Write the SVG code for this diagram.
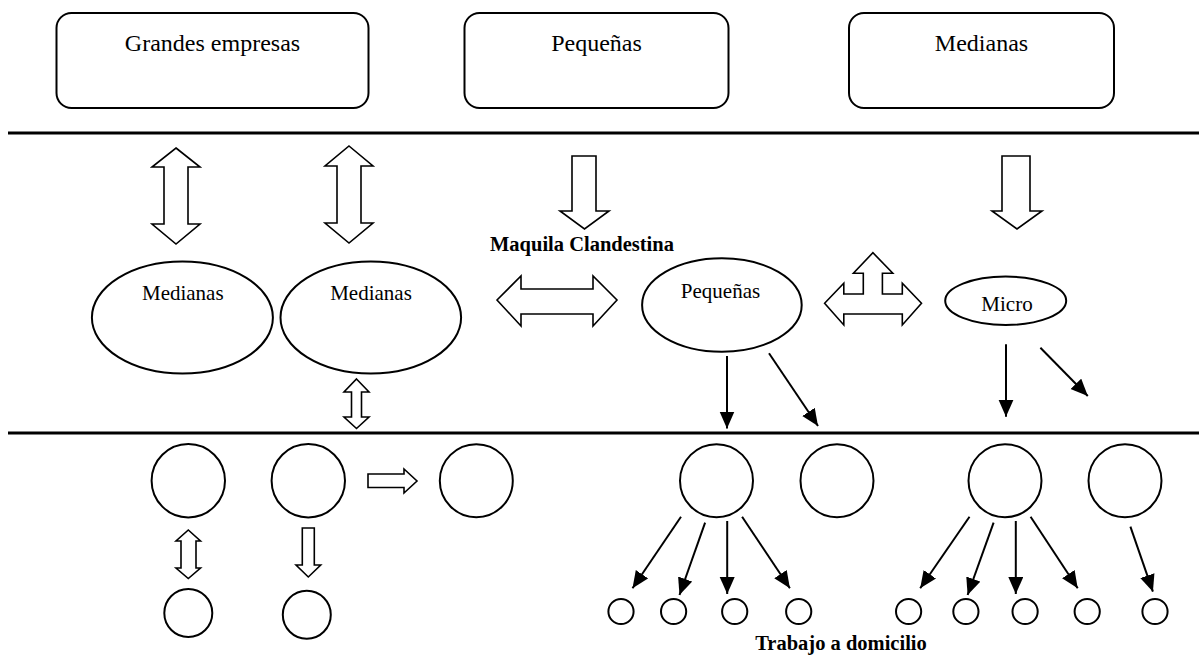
<svg xmlns="http://www.w3.org/2000/svg" width="1199" height="660" viewBox="0 0 1199 660">
<style>
.box{fill:#fff;stroke:#000;stroke-width:2}
.node{fill:#fff;stroke:#000;stroke-width:2}
.blk{fill:#fff;stroke:#000;stroke-width:1.6;stroke-linejoin:miter}
.sep{stroke:#000;stroke-width:3}
.ln{stroke:#000;stroke-width:2;fill:none}
.t24{font-family:"Liberation Serif","Times New Roman",serif;font-size:24px;text-anchor:middle;fill:#000}
.t21{font-family:"Liberation Serif","Times New Roman",serif;font-size:21px;text-anchor:middle;fill:#000}
.tb{font-family:"Liberation Serif","Times New Roman",serif;font-size:20.5px;font-weight:bold;text-anchor:middle;fill:#000}
</style>
<defs>
<marker id="ah" markerUnits="userSpaceOnUse" markerWidth="18" markerHeight="16" refX="17" refY="7.5" orient="auto">
<path d="M0,0 L17,7.5 L0,15 z" fill="#000"/>
</marker>
</defs>
<rect width="1199" height="660" fill="#fff"/>
<g id="separators">
<line class="sep" x1="8" y1="133" x2="1199" y2="133"/>
<line class="sep" x1="8" y1="433" x2="1199" y2="433"/>
</g>
<g id="box-grandes"><rect class="box" x="56.5" y="13" width="312" height="95" rx="15"/><text class="t24" x="212.5" y="51">Grandes empresas</text></g>
<g id="box-pequenas"><rect class="box" x="464.5" y="13" width="264" height="95" rx="15"/><text class="t24" x="596.5" y="51">Pequeñas</text></g>
<g id="box-medianas"><rect class="box" x="849" y="13" width="265" height="95" rx="15"/><text class="t24" x="981.5" y="51">Medianas</text></g>
<g id="label-maquila"><text class="tb" x="582" y="250.5">Maquila Clandestina</text></g>
<g id="ell-medianas1"><ellipse class="node" cx="182.4" cy="317.5" rx="90.5" ry="56"/><text class="t21" x="182.8" y="300">Medianas</text></g>
<g id="ell-medianas2"><ellipse class="node" cx="370.8" cy="317.5" rx="90.3" ry="56"/><text class="t21" x="371" y="300">Medianas</text></g>
<g id="ell-pequenas"><ellipse class="node" cx="721.9" cy="305" rx="79.8" ry="46.7"/><text class="t21" x="720.5" y="298">Pequeñas</text></g>
<g id="ell-micro"><ellipse class="node" cx="1005.7" cy="300.8" rx="60.5" ry="24.2"/><text class="t21" x="1007" y="310.7">Micro</text></g>
<g id="circles-left">
<circle class="node" cx="188.3" cy="480.7" r="36.7"/>
<circle class="node" cx="308.3" cy="480.7" r="36.7"/>
<circle class="node" cx="476.3" cy="480.7" r="36.5"/>
<circle class="node" cx="188.3" cy="613" r="24"/>
<circle class="node" cx="306.8" cy="614.7" r="24"/>
</g>
<g id="circles-right">
<circle class="node" cx="716.5" cy="480.7" r="36.5"/>
<circle class="node" cx="837" cy="480.7" r="36.5"/>
<circle class="node" cx="1005" cy="480.7" r="36.5"/>
<circle class="node" cx="1125" cy="480.7" r="36.5"/>
<circle class="node" cx="621" cy="611.5" r="12.6"/>
<circle class="node" cx="673.6" cy="611.5" r="12.6"/>
<circle class="node" cx="734.7" cy="611.5" r="12.6"/>
<circle class="node" cx="798.7" cy="611.5" r="12.6"/>
<circle class="node" cx="908.6" cy="611.5" r="12.6"/>
<circle class="node" cx="965.9" cy="611.5" r="12.6"/>
<circle class="node" cx="1025.1" cy="611.5" r="12.6"/>
<circle class="node" cx="1087.2" cy="611.5" r="12.6"/>
<circle class="node" cx="1155" cy="611.5" r="12.6"/>
</g>
<g id="label-trabajo"><text class="tb" x="841" y="650">Trabajo a domicilio</text></g>
<g id="connectors">
<polygon class="blk" points="176,148 200,167 188,167 188,224 200,224 176,244 152,224 164,224 164,167 152,167"/>
<polygon class="blk" points="349,146 373,166 361,166 361,223 373,223 349,243 325,223 337,223 337,166 325,166"/>
<polygon class="blk" points="572,156 596,156 596,211 609,211 584.5,229 560,211 572,211"/>
<polygon class="blk" points="1002,156 1030,156 1030,211 1042,211 1017,229 992,211 1002,211"/>
<polygon class="blk" points="497,300 521,276 521,289 593,289 593,276 617,300 593,326 593,314 521,314 521,326"/>
<polygon class="blk" points="824.6,303.3 843.8,283.3 843.8,294 863.3,294 863.3,273.3 853.4,273.3 872.9,252.7 892.8,273.3 882.4,273.3 882.4,294 902.3,294 902.3,283.3 921.5,303.3 902.3,325 902.3,314 843.8,314 843.8,325"/>
<polygon class="blk" points="356.5,379 369,392 361.5,392 361.5,417 369,417 356.5,428.5 344,417 351.5,417 351.5,392 344,392"/>
<polygon class="blk" points="368,474 404,474 404,469 417,481 404,493 404,487.5 368,487.5"/>
<polygon class="blk" points="188.3,530 200.5,541 196,541 196,568 200.5,568 188.3,578.5 176,568 181,568 181,541 176,541"/>
<polygon class="blk" points="302.3,528 314.3,528 314.3,565 320.7,565 308.3,577 296,565 302.3,565"/>
<line class="ln" x1="727" y1="356" x2="727" y2="428.5" marker-end="url(#ah)"/>
<line class="ln" x1="769" y1="353.3" x2="818" y2="426" marker-end="url(#ah)"/>
<line class="ln" x1="1006" y1="344.3" x2="1006" y2="416.7" marker-end="url(#ah)"/>
<line class="ln" x1="1040.4" y1="347.7" x2="1087.8" y2="396" marker-end="url(#ah)"/>
<line class="ln" x1="681" y1="516.7" x2="632.5" y2="588.3" marker-end="url(#ah)"/>
<line class="ln" x1="705.1" y1="522.7" x2="679.5" y2="595" marker-end="url(#ah)"/>
<line class="ln" x1="727.2" y1="521" x2="727.2" y2="594" marker-end="url(#ah)"/>
<line class="ln" x1="742.1" y1="516.7" x2="789.9" y2="588.3" marker-end="url(#ah)"/>
<line class="ln" x1="969.5" y1="516.7" x2="920.2" y2="588.3" marker-end="url(#ah)"/>
<line class="ln" x1="993.6" y1="522.7" x2="967.6" y2="595" marker-end="url(#ah)"/>
<line class="ln" x1="1015.8" y1="521" x2="1015.8" y2="594" marker-end="url(#ah)"/>
<line class="ln" x1="1030.6" y1="516.7" x2="1077.7" y2="588.3" marker-end="url(#ah)"/>
<line class="ln" x1="1130.4" y1="526.7" x2="1152.9" y2="591.7" marker-end="url(#ah)"/>
</g>
</svg>
